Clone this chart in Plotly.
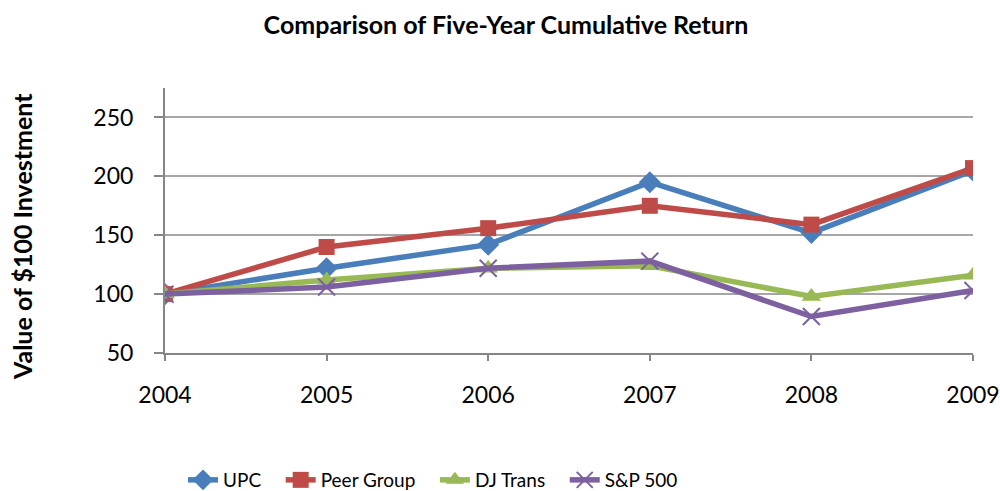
import plotly.graph_objects as go

years = ["2004", "2005", "2006", "2007", "2008", "2009"]
upc = [100, 122, 142, 195, 152, 205]
peer = [100, 140, 156, 175, 159, 207]
dj_trans = [100, 112, 122, 124, 98, 116]
sp500 = [100, 106, 122, 128, 81, 103]
y_ticks = [50, 100, 150, 200, 250]

FONT = "Lato"
W, H = 1000, 491
L, R, T, B = 165, 27, 88, 138
PW, PH = W - L - R, H - T - B
GAP = "\u00a0" * 3

def px_x(x):
    return (x - L) / PW

def px_y(y):
    return (H - B - y) / PH

fig = go.Figure()
fig.add_trace(go.Scatter(x=years, y=upc, name="UPC" + GAP, mode="lines+markers",
                         line=dict(color="#4A7EBB", width=5.5),
                         marker=dict(symbol="diamond", size=17, color="#4A7EBB")))
fig.add_trace(go.Scatter(x=years, y=peer, name="Peer Group" + GAP, mode="lines+markers",
                         line=dict(color="#BE4B48", width=5.5),
                         marker=dict(symbol="square", size=16, color="#BE4B48")))
fig.add_trace(go.Scatter(x=years, y=dj_trans, name="DJ Trans" + GAP, mode="lines+markers",
                         line=dict(color="#98B954", width=5.5),
                         marker=dict(symbol="triangle-up", size=17, color="#98B954")))
fig.add_trace(go.Scatter(x=years, y=sp500, name="S&P 500", mode="lines+markers",
                         line=dict(color="#7D60A0", width=5.5),
                         marker=dict(symbol="x-thin", size=17, color="#7D60A0",
                                     line=dict(color="#7D60A0", width=2))))

fig.update_layout(
    width=W, height=H,
    margin=dict(l=L, r=R, t=T, b=B, autoexpand=False),
    paper_bgcolor="white", plot_bgcolor="white",
    font=dict(family=FONT, size=23, color="black"),
    title=dict(text="<b>Comparison of Five-Year Cumulative Return</b>",
               x=506 / W, xanchor="center", y=1 - 25 / H, yanchor="middle",
               font=dict(family=FONT, size=25, color="black")),
    showlegend=True,
    legend=dict(orientation="h", x=px_x(183), xanchor="left",
                y=px_y(480), yanchor="middle",
                font=dict(family=FONT, size=19, color="black"),
                itemwidth=30, tracegroupgap=0),
    xaxis=dict(type="category", range=[0, 5], showgrid=False, automargin=False,
               showline=True, linecolor="#868686", linewidth=2,
               ticks="outside", ticklen=6, tickcolor="#868686", tickwidth=2,
               ticklabelstandoff=14,
               tickfont=dict(family=FONT, size=23, color="black")),
    yaxis=dict(range=[50, 275], tickvals=y_ticks, showgrid=True, automargin=False,
               gridcolor="#A6A6A6", gridwidth=2, zeroline=False,
               showline=True, linecolor="#868686", linewidth=2,
               ticks="outside", ticklen=9, tickcolor="#868686", tickwidth=2,
               ticklabelstandoff=16,
               tickfont=dict(family=FONT, size=23, color="black")),
    annotations=[dict(text="<b>Value of $100 Investment</b>", textangle=-90,
                      xref="paper", yref="paper", x=px_x(22), y=px_y(237),
                      xanchor="center", yanchor="middle", showarrow=False,
                      font=dict(family=FONT, size=25, color="black"))],
)

fig.write_html("out.html", config={"displayModeBar": False},
               post_script="document.body.style.margin='0px';")
